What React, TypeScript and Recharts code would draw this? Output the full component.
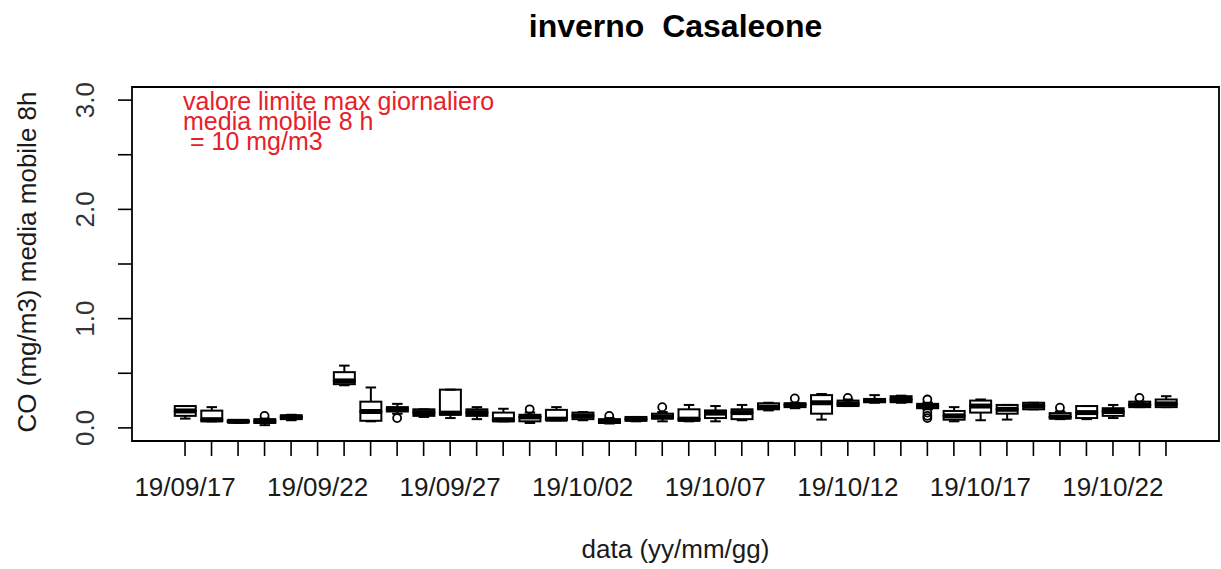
import React from 'react';
import {
  ComposedChart,
  Bar,
  Scatter,
  XAxis,
  YAxis,
  ReferenceArea,
  Customized,
} from 'recharts';

// dates (yy/mm/gg), one box per day
const dates = [
  '19/09/17', '19/09/18', '19/09/19', '19/09/20', '19/09/21', '19/09/22', '19/09/23',
  '19/09/24', '19/09/25', '19/09/26', '19/09/27', '19/09/28', '19/09/29', '19/09/30',
  '19/10/01', '19/10/02', '19/10/03', '19/10/04', '19/10/05', '19/10/06', '19/10/07',
  '19/10/08', '19/10/09', '19/10/10', '19/10/11', '19/10/12', '19/10/13', '19/10/14',
  '19/10/15', '19/10/16', '19/10/17', '19/10/18', '19/10/19', '19/10/20', '19/10/21',
  '19/10/22', '19/10/23', '19/10/24',
];

// boxplot stats, mg/m3 (null = no data that day)
const whiskerLow = [
  0.085, 0.06, 0.045, 0.025, 0.07, null, 0.39, 0.06, 0.13, 0.1, 0.09, 0.08, 0.06, 0.045,
  0.07, 0.07, 0.04, 0.06, 0.06, 0.06, 0.06, 0.07, 0.16, 0.18, 0.076, 0.2, 0.23, 0.23,
  0.17, 0.06, 0.07, 0.076, 0.17, 0.08, 0.08, 0.09, 0.19, 0.19,
];
const boxLow = [
  0.11, 0.06, 0.05, 0.045, 0.08, null, 0.4, 0.065, 0.15, 0.11, 0.12, 0.11, 0.06, 0.06,
  0.07, 0.08, 0.045, 0.065, 0.085, 0.065, 0.09, 0.08, 0.17, 0.19, 0.13, 0.2, 0.235, 0.235,
  0.18, 0.075, 0.14, 0.13, 0.17, 0.085, 0.09, 0.11, 0.19, 0.19,
];
const medians = [
  0.155, 0.075, 0.06, 0.06, 0.1, null, 0.43, 0.15, 0.17, 0.14, 0.135, 0.14, 0.075, 0.1,
  0.08, 0.11, 0.06, 0.08, 0.1, 0.08, 0.135, 0.14, 0.19, 0.21, 0.23, 0.22, 0.25, 0.26,
  0.2, 0.11, 0.2, 0.17, 0.2, 0.1, 0.14, 0.15, 0.21, 0.22,
];
const boxHigh = [
  0.2, 0.158, 0.07, 0.08, 0.115, null, 0.51, 0.24, 0.19, 0.17, 0.35, 0.17, 0.14, 0.12,
  0.165, 0.14, 0.08, 0.1, 0.13, 0.17, 0.16, 0.17, 0.225, 0.225, 0.3, 0.25, 0.265, 0.29,
  0.22, 0.155, 0.25, 0.21, 0.23, 0.135, 0.2, 0.18, 0.24, 0.26,
];
const whiskerHigh = [
  0.2, 0.19, 0.07, 0.085, 0.12, null, 0.57, 0.37, 0.22, 0.17, 0.35, 0.19, 0.175, 0.14,
  0.19, 0.145, 0.09, 0.1, 0.145, 0.21, 0.2, 0.21, 0.23, 0.23, 0.31, 0.26, 0.3, 0.295,
  0.23, 0.19, 0.26, 0.21, 0.23, 0.15, 0.2, 0.21, 0.24, 0.29,
];

// outliers: [day index (1-based), value]
const outliers: [number, number][] = [
  [4, 0.11], [9, 0.09], [14, 0.17], [17, 0.11], [19, 0.19], [24, 0.27], [26, 0.275],
  [29, 0.26], [29, 0.14], [29, 0.11], [29, 0.09], [34, 0.185], [37, 0.275],
];

const yTicks = [0, 0.5, 1, 1.5, 2, 2.5, 3];
const labelEvery = 5;

const FONT = '"Liberation Sans", Arial, Helvetica, sans-serif';
const INK = '#1a1a1a';
const RED = '#e8202a';

const rows = dates
  .map((d, i) => {
    if (medians[i] == null) return null;
    const lo = whiskerLow[i] as number;
    const q1 = boxLow[i] as number;
    const md = medians[i] as number;
    const q3 = boxHigh[i] as number;
    const hi = whiskerHigh[i] as number;
    return {
      x: i + 1,
      date: d,
      base: lo,
      wLo: q1 - lo,
      bLo: md - q1,
      bHi: q3 - md,
      wHi: hi - q3,
    };
  })
  .filter(Boolean) as any[];

const outlierPoints = outliers.map(([day, v]) => ({ x: day, y: v }));

const LowWhisker = (props: any) => {
  const { x, y, width, height } = props;
  const cx = x + width / 2;
  const bottom = y + height;
  return (
    <g stroke="#000" strokeWidth={2}>
      <line x1={cx} x2={cx} y1={y} y2={bottom} />
      <line x1={cx - width / 4} x2={cx + width / 4} y1={bottom} y2={bottom} />
    </g>
  );
};

const HighWhisker = (props: any) => {
  const { x, y, width, height } = props;
  const cx = x + width / 2;
  return (
    <g stroke="#000" strokeWidth={2}>
      <line x1={cx} x2={cx} y1={y} y2={y + height} />
      <line x1={cx - width / 4} x2={cx + width / 4} y1={y} y2={y} />
    </g>
  );
};

const LowerBox = (props: any) => {
  const { x, y, width, height } = props;
  return <rect x={x} y={y} width={width} height={height} fill="#fff" stroke="#000" strokeWidth={2} />;
};

const UpperBox = (props: any) => {
  const { x, y, width, height } = props;
  const med = y + height;
  return (
    <g>
      <rect x={x} y={y} width={width} height={height} fill="#fff" stroke="#000" strokeWidth={2} />
      <line x1={x} x2={x + width} y1={med} y2={med} stroke="#000" strokeWidth={5} />
    </g>
  );
};

const OutlierDot = (props: any) => {
  const { cx, cy } = props;
  return <circle cx={cx} cy={cy} r={4} fill="none" stroke="#000" strokeWidth={1.8} />;
};

const XTick = (props: any) => {
  const { x, y, payload } = props;
  if ((payload.value - 1) % labelEvery !== 0) return null;
  return (
    <text x={x} y={y + 40} textAnchor="middle" fontSize={26} fontFamily={FONT} fill={INK}>
      {dates[payload.value - 1]}
    </text>
  );
};

const YTick = (props: any) => {
  const { x, y, payload } = props;
  if (payload.value % 1 !== 0) return null;
  const tx = x - 24;
  return (
    <text
      x={tx}
      y={y}
      transform={`rotate(-90, ${tx}, ${y})`}
      textAnchor="middle"
      fontSize={26}
      fontFamily={FONT}
      fill="#333"
    >
      {payload.value.toFixed(1)}
    </text>
  );
};

const Labels = () => (
  <g fontFamily={FONT}>
    <text
      x={675.5}
      y={37}
      textAnchor="middle"
      fontSize={32}
      fontWeight="bold"
      fill="#000"
      style={{ whiteSpace: 'pre' }}
    >
      {'inverno  Casaleone'}
    </text>
    <text x={675.5} y={558} textAnchor="middle" fontSize={26} fill={INK}>
      data (yy/mm/gg)
    </text>
    <text x={36} y={262} transform="rotate(-90, 36, 262)" textAnchor="middle" fontSize={26} fill={INK}>
      CO (mg/m3) media mobile 8h
    </text>
    <g fill={RED} fontSize={25}>
      <text x={183} y={110}>valore limite max giornaliero</text>
      <text x={183} y={130}>media mobile 8 h</text>
      <text x={183} y={150} style={{ whiteSpace: 'pre' }}>{' = 10 mg/m3'}</text>
    </g>
  </g>
);

export default function App() {
  return (
    <div style={{ position: 'absolute', left: 0, top: 0, background: '#fff' }}>
      <ComposedChart
        width={1221}
        height={569}
        data={rows}
        margin={{ top: 87, right: 2, bottom: 0, left: 0 }}
      >
        <XAxis
          dataKey="x"
          type="number"
          domain={[-1, 40]}
          ticks={dates.map((_, i) => i + 1)}
          interval={0}
          height={128}
          tickSize={15}
          tickMargin={0}
          axisLine={false}
          tickLine={{ stroke: '#000', strokeWidth: 1.6 }}
          tick={<XTick />}
          allowDataOverflow
        />
        <YAxis
          type="number"
          domain={[-0.12, 3.12]}
          ticks={yTicks}
          interval={0}
          width={132}
          tickSize={14}
          tickMargin={0}
          axisLine={false}
          tickLine={{ stroke: '#000', strokeWidth: 1.6 }}
          tick={<YTick />}
          allowDataOverflow
        />
        <ReferenceArea
          x1={-1}
          x2={40}
          y1={-0.12}
          y2={3.12}
          fill="none"
          fillOpacity={0}
          stroke="#000"
          strokeWidth={1.8}
          ifOverflow="visible"
        />
        <Bar dataKey="base" stackId="b" barSize={21} fill="none" isAnimationActive={false} />
        <Bar dataKey="wLo" stackId="b" barSize={21} shape={<LowWhisker />} isAnimationActive={false} />
        <Bar dataKey="bLo" stackId="b" barSize={21} shape={<LowerBox />} isAnimationActive={false} />
        <Bar dataKey="bHi" stackId="b" barSize={21} shape={<UpperBox />} isAnimationActive={false} />
        <Bar dataKey="wHi" stackId="b" barSize={21} shape={<HighWhisker />} isAnimationActive={false} />
        <Scatter data={outlierPoints} dataKey="y" shape={<OutlierDot />} isAnimationActive={false} />
        <Customized component={Labels} />
      </ComposedChart>
    </div>
  );
}
